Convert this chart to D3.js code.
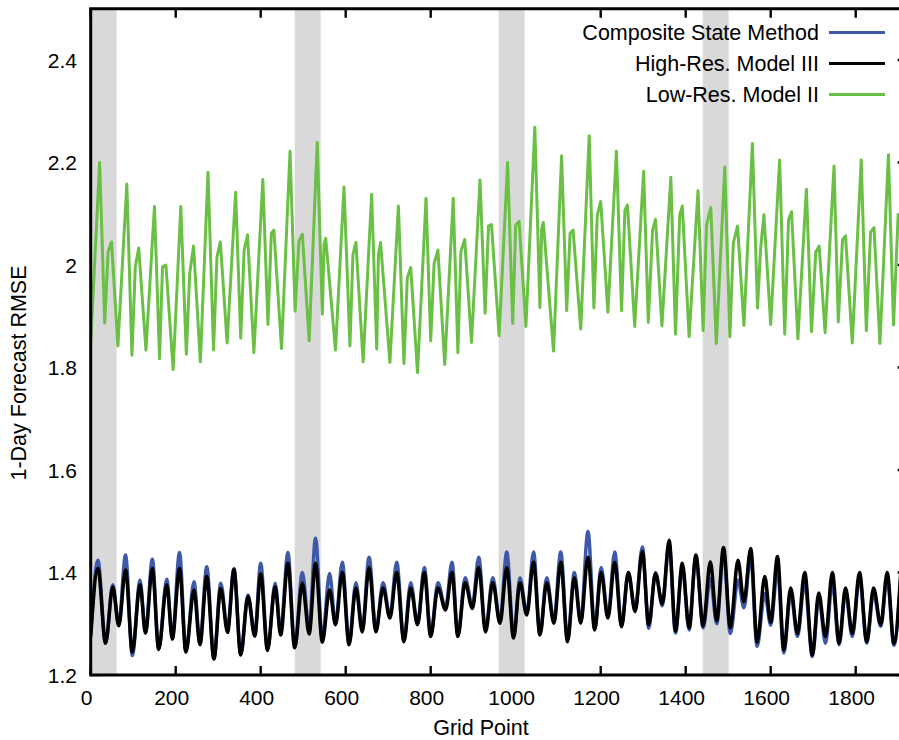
<!DOCTYPE html>
<html><head><meta charset="utf-8">
<script src="https://cdn.jsdelivr.net/npm/d3@7"></script>
<style>
body{margin:0;background:#fff}
text{font-family:"Liberation Sans",Arial,Helvetica,sans-serif;fill:#000}
</style></head>
<body><svg id="chart" width="899" height="740"></svg>
<script>
// ---------- data ----------
const xTickValues = [0,200,400,600,800,1000,1200,1400,1600,1800];
const yTickValues = [1.2,1.4,1.6,1.8,2.0,2.2,2.4];
const yTickLabels = ["1.2","1.4","1.6","1.8","2","2.2","2.4"];
const bandStarts = [0,480,960,1440];
const bandEnds   = [61,541,1021,1501];
const seriesNames  = ["Composite State Method","High-Res. Model III","Low-Res. Model II"];
const seriesColors = ["#3d59a8","#000000","#6abf45"];

// oscillating series: grid points of the turning points
const oscGrid = [
0,17,35,52,66,82,98,116,129,145,
160,179,192,209,224,243,257,273,290,306,
322,337,353,370,386,400,416,434,447,464,
480,498,514,529,545,562,576,592,608,624,
639,655,671,688,704,720,737,753,769,785,
800,817,835,850,864,881,898,913,929,946,
963,979,995,1010,1026,1042,1057,1073,1090,1106,
1122,1138,1153,1170,1186,1201,1217,1233,1249,1265,
1281,1298,1313,1329,1345,1361,1376,1392,1408,1424,
1441,1458,1473,1489,1505,1523,1537,1553,1568,1586,
1600,1616,1631,1647,1663,1680,1698,1713,1729,1745,
1761,1776,1792,1809,1826,1842,1859,1874,1890,1906];

const highResRMSE = [
1.275,1.408,1.262,1.372,1.296,1.405,1.245,1.376,1.282,1.408,
1.250,1.376,1.270,1.408,1.245,1.366,1.259,1.392,1.231,1.369,
1.283,1.406,1.239,1.353,1.276,1.397,1.248,1.372,1.278,1.418,
1.253,1.379,1.280,1.418,1.264,1.366,1.298,1.400,1.259,1.370,
1.284,1.410,1.284,1.370,1.311,1.400,1.265,1.370,1.298,1.400,
1.275,1.370,1.327,1.400,1.275,1.380,1.330,1.410,1.284,1.380,
1.301,1.410,1.272,1.380,1.317,1.420,1.278,1.380,1.301,1.420,
1.265,1.390,1.301,1.430,1.288,1.400,1.311,1.420,1.294,1.400,
1.324,1.441,1.298,1.398,1.339,1.463,1.286,1.418,1.292,1.434,
1.296,1.421,1.306,1.449,1.292,1.424,1.343,1.447,1.264,1.392,
1.303,1.431,1.249,1.370,1.281,1.400,1.239,1.360,1.275,1.400,
1.262,1.370,1.281,1.400,1.265,1.370,1.298,1.400,1.262,1.400];

const compositeRMSE = [
1.280,1.424,1.262,1.376,1.298,1.434,1.238,1.385,1.282,1.426,
1.250,1.387,1.272,1.439,1.245,1.382,1.262,1.411,1.233,1.379,
1.290,1.408,1.240,1.356,1.280,1.418,1.250,1.379,1.285,1.439,
1.255,1.400,1.290,1.467,1.270,1.398,1.300,1.420,1.262,1.380,
1.290,1.430,1.288,1.380,1.315,1.420,1.268,1.380,1.300,1.410,
1.278,1.380,1.330,1.420,1.278,1.390,1.335,1.430,1.288,1.390,
1.305,1.440,1.275,1.390,1.320,1.440,1.280,1.390,1.305,1.440,
1.268,1.400,1.305,1.480,1.290,1.410,1.315,1.440,1.296,1.400,
1.326,1.450,1.291,1.400,1.335,1.455,1.282,1.410,1.288,1.430,
1.292,1.388,1.300,1.440,1.281,1.385,1.331,1.431,1.256,1.359,
1.297,1.405,1.243,1.360,1.275,1.380,1.236,1.350,1.262,1.380,
1.259,1.360,1.275,1.390,1.262,1.360,1.295,1.390,1.258,1.390];

const lowResGrid = [
0,
21,33,41,49,64,
85,97,105,113,130,
150,162,169,177,194,
212,225,233,242,258,
276,289,297,305,321,
341,353,361,369,384,
405,417,425,431,449,
469,481,490,498,514,
533,545,549,553,576,
596,610,617,624,641,
661,673,677,682,704,
724,737,745,753,769,
789,800,808,817,833,
853,864,871,880,896,
916,928,936,943,961,
981,993,1000,1008,1024,
1045,1057,1061,1065,1089,
1108,1120,1128,1135,1153,
1173,1184,1192,1200,1217,
1237,1249,1257,1263,1280,
1301,1312,1322,1329,1344,
1365,1376,1386,1392,1408,
1429,1441,1449,1459,1472,
1492,1504,1512,1522,1537,
1557,1569,1576,1584,1600,
1621,1633,1642,1649,1664,
1684,1696,1706,1714,1728,
1749,1759,1769,1776,1792,
1813,1825,1835,1843,1857,
1877,1889,1900];

const lowResRMSE = [
1.850,
2.200,1.887,2.026,2.045,1.842,
2.158,1.824,1.997,2.033,1.834,
2.114,1.817,1.997,2.000,1.796,
2.114,1.826,1.984,2.037,1.811,
2.181,1.834,2.015,2.045,1.848,
2.142,1.857,2.029,2.059,1.829,
2.167,1.884,2.062,2.068,1.837,
2.222,1.910,2.047,2.060,1.852,
2.239,1.904,2.040,2.052,1.834,
2.152,1.842,2.020,2.044,1.811,
2.138,1.836,2.020,2.044,1.810,
2.115,1.808,1.975,1.995,1.790,
2.130,1.852,2.003,2.029,1.806,
2.130,1.829,2.026,2.050,1.849,
2.166,1.906,2.076,2.079,1.862,
2.200,1.886,2.078,2.085,1.880,
2.269,1.917,2.070,2.083,1.832,
2.213,1.911,2.062,2.068,1.875,
2.252,1.916,2.098,2.124,1.908,
2.222,1.911,2.107,2.117,1.880,
2.183,1.888,2.068,2.089,1.881,
2.171,1.865,2.098,2.115,1.860,
2.145,1.872,2.078,2.112,1.847,
2.191,1.860,2.043,2.076,1.882,
2.237,1.916,2.029,2.098,1.884,
2.205,1.865,2.088,2.104,1.856,
2.148,1.870,2.025,2.037,1.868,
2.193,1.889,2.049,2.057,1.848,
2.205,1.872,2.064,2.073,1.847,
2.215,1.883,2.101];

// ---------- layout ----------
const svg = d3.select("#chart");
const mLeft = 90.7, mRight = 906.7, mTop = 8.75, mBottom = 675;
const x = d3.scaleLinear().domain([0,1920]).range([mLeft,mRight]);
const y = d3.scaleLinear().domain([1.2,2.5]).range([mBottom,mTop]);
const tickLen = 9;

svg.append("defs").append("clipPath").attr("id","plotclip")
  .append("rect").attr("x",mLeft).attr("y",mTop).attr("width",mRight-mLeft).attr("height",mBottom-mTop);

// ticks (inward on all four sides)
const tk = svg.append("g").attr("stroke","#000").attr("stroke-width",2.4);
xTickValues.forEach(v=>{
  tk.append("line").attr("x1",x(v)).attr("x2",x(v)).attr("y1",mBottom).attr("y2",mBottom-tickLen);
  tk.append("line").attr("x1",x(v)).attr("x2",x(v)).attr("y1",mTop).attr("y2",mTop+tickLen);
});
yTickValues.forEach(v=>{
  tk.append("line").attr("x1",mLeft).attr("x2",mLeft+tickLen).attr("y1",y(v)).attr("y2",y(v));
  tk.append("line").attr("x1",mRight).attr("x2",mRight-tickLen).attr("y1",y(v)).attr("y2",y(v));
});

// grey bands
svg.append("g").selectAll("rect").data(bandStarts).join("rect")
  .attr("x",(d)=>x(d)).attr("width",(d,i)=>x(bandEnds[i])-x(d))
  .attr("y",mTop).attr("height",mBottom-mTop).attr("fill","#d9d9d9");

// lines
const plot = svg.append("g").attr("clip-path","url(#plotclip)");
const oscLine = d3.line().x(d=>x(d[0])).y(d=>y(d[1])).curve(d3.curveMonotoneX);
const linLine = d3.line().x(d=>x(d[0])).y(d=>y(d[1]));
const blueData  = oscGrid.map((g,i)=>[g,compositeRMSE[i]]);
const blackData = oscGrid.map((g,i)=>[g,highResRMSE[i]]);
const greenData = lowResGrid.map((g,i)=>[g,lowResRMSE[i]]);
plot.append("path").attr("d",oscLine(blueData)).attr("fill","none")
  .attr("stroke",seriesColors[0]).attr("stroke-width",3.5).attr("stroke-linejoin","round");
plot.append("path").attr("d",oscLine(blackData)).attr("fill","none")
  .attr("stroke",seriesColors[1]).attr("stroke-width",3.5).attr("stroke-linejoin","round");
plot.append("path").attr("d",linLine(greenData)).attr("fill","none")
  .attr("stroke",seriesColors[2]).attr("stroke-width",3).attr("stroke-linejoin","round");

// border
svg.append("rect").attr("x",mLeft).attr("y",mTop).attr("width",mRight-mLeft).attr("height",mBottom-mTop)
  .attr("fill","none").attr("stroke","#000").attr("stroke-width",3);

// tick labels
svg.append("g").selectAll("text").data(xTickValues).join("text")
  .attr("x",d=>x(d)-4).attr("y",705).attr("text-anchor","middle")
  .attr("font-size",21).text(d=>d);
svg.append("g").selectAll("text").data(yTickValues).join("text")
  .attr("x",77).attr("y",d=>y(d)+7.5).attr("text-anchor","end")
  .attr("font-size",21).text((d,i)=>yTickLabels[i]);

// axis titles
svg.append("text").attr("x",481).attr("y",735).attr("text-anchor","middle")
  .attr("font-size",21.5).text("Grid Point");
svg.append("text").attr("transform","translate(26,373) rotate(-90)")
  .attr("text-anchor","middle").attr("font-size",21.5).text("1-Day Forecast RMSE");

// legend
const lg = svg.append("g");
seriesNames.forEach((n,i)=>{
  const ly = 32.5 + i*31;
  lg.append("text").attr("x",819).attr("y",ly+7.5).attr("text-anchor","end")
    .attr("font-size",21.5).text(n);
  lg.append("line").attr("x1",829).attr("x2",885).attr("y1",ly).attr("y2",ly)
    .attr("stroke",seriesColors[i]).attr("stroke-width",3);
});
</script></body></html>
